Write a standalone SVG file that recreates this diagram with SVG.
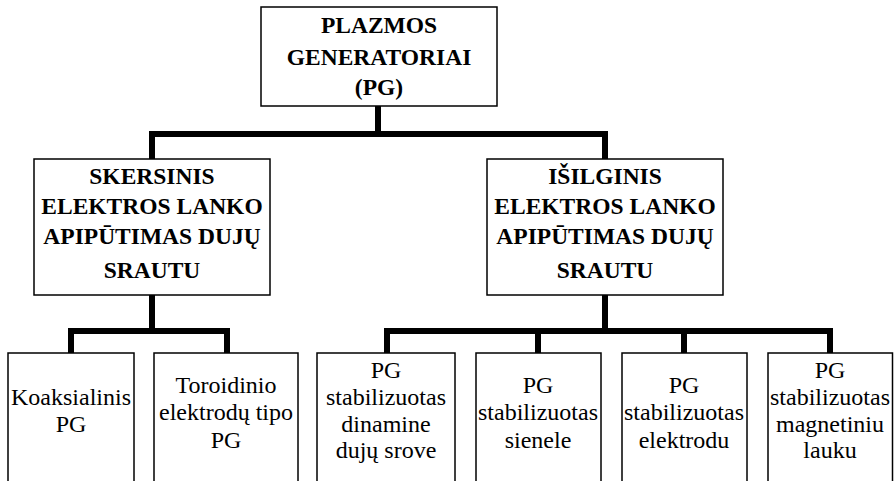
<svg xmlns="http://www.w3.org/2000/svg" width="894" height="481" viewBox="0 0 894 481">
<style>
.box{fill:#fff;stroke:#000;stroke-width:1.5}
.c{fill:none;stroke:#000;stroke-width:6;stroke-linejoin:miter}
.b,.r{font-family:'Liberation Serif','Times New Roman',serif;text-anchor:middle;fill:#000}
.b{font-weight:bold;font-size:23.5px}
.r{font-size:24px}
</style>
<rect width="894" height="481" fill="#fff"/>
<g id="connectors">
<path class="c" d="M378 106 V134"/>
<path class="c" d="M152 159 V134 H605 V159"/>
<path class="c" d="M152 295 V331"/>
<path class="c" d="M71 353 V331 H227 V353"/>
<path class="c" d="M605 295 V331"/>
<path class="c" d="M387 353 V331 H830 V353"/>
<path class="c" d="M538 331 V353"/>
<path class="c" d="M684 331 V353"/>
</g>
<g id="root">
<rect class="box" x="261" y="7" width="236" height="99"/>
<text class="b" font-family="Liberation Serif" x="379" y="33">PLAZMOS</text>
<text class="b" font-family="Liberation Serif" x="379" y="65">GENERATORIAI</text>
<text class="b" font-family="Liberation Serif" x="379" y="95">(PG)</text>
</g>
<g id="skersinis">
<rect class="box" x="34" y="159" width="236" height="136"/>
<text class="b" font-family="Liberation Serif" x="152" y="184">SKERSINIS</text>
<text class="b" font-family="Liberation Serif" x="152" y="214">ELEKTROS LANKO</text>
<text class="b" font-family="Liberation Serif" x="152" y="244">APIPŪTIMAS DUJŲ</text>
<text class="b" font-family="Liberation Serif" x="152" y="278">SRAUTU</text>
</g>
<g id="isilginis">
<rect class="box" x="487" y="159" width="236" height="136"/>
<text class="b" font-family="Liberation Serif" x="605" y="184">IŠILGINIS</text>
<text class="b" font-family="Liberation Serif" x="605" y="214">ELEKTROS LANKO</text>
<text class="b" font-family="Liberation Serif" x="605" y="244">APIPŪTIMAS DUJŲ</text>
<text class="b" font-family="Liberation Serif" x="605" y="278">SRAUTU</text>
</g>
<g id="koaksialinis">
<rect class="box" x="8" y="353" width="126" height="140"/>
<text class="r" font-family="Liberation Serif" x="71" y="405">Koaksialinis</text>
<text class="r" font-family="Liberation Serif" x="71" y="432">PG</text>
</g>
<g id="toroidinio">
<rect class="box" x="154" y="353" width="144" height="140"/>
<text class="r" font-family="Liberation Serif" x="226" y="393">Toroidinio</text>
<text class="r" font-family="Liberation Serif" x="226" y="420">elektrodų tipo</text>
<text class="r" font-family="Liberation Serif" x="226" y="448">PG</text>
</g>
<g id="dinamine">
<rect class="box" x="317" y="353" width="138" height="140"/>
<text class="r" font-family="Liberation Serif" x="386" y="378">PG</text>
<text class="r" font-family="Liberation Serif" x="386" y="405">stabilizuotas</text>
<text class="r" font-family="Liberation Serif" x="386" y="432">dinamine</text>
<text class="r" font-family="Liberation Serif" x="386" y="458">dujų srove</text>
</g>
<g id="sienele">
<rect class="box" x="476" y="353" width="125" height="140"/>
<text class="r" font-family="Liberation Serif" x="538" y="393">PG</text>
<text class="r" font-family="Liberation Serif" x="538" y="420">stabilizuotas</text>
<text class="r" font-family="Liberation Serif" x="538" y="448">sienele</text>
</g>
<g id="elektrodu">
<rect class="box" x="622" y="353" width="125" height="140"/>
<text class="r" font-family="Liberation Serif" x="684" y="393">PG</text>
<text class="r" font-family="Liberation Serif" x="684" y="420">stabilizuotas</text>
<text class="r" font-family="Liberation Serif" x="684" y="448">elektrodu</text>
</g>
<g id="magnetiniu">
<rect class="box" x="768" y="353" width="124.5" height="140"/>
<text class="r" font-family="Liberation Serif" x="830" y="378">PG</text>
<text class="r" font-family="Liberation Serif" x="830" y="405">stabilizuotas</text>
<text class="r" font-family="Liberation Serif" x="830" y="432">magnetiniu</text>
<text class="r" font-family="Liberation Serif" x="830" y="458">lauku</text>
</g>
</svg>
